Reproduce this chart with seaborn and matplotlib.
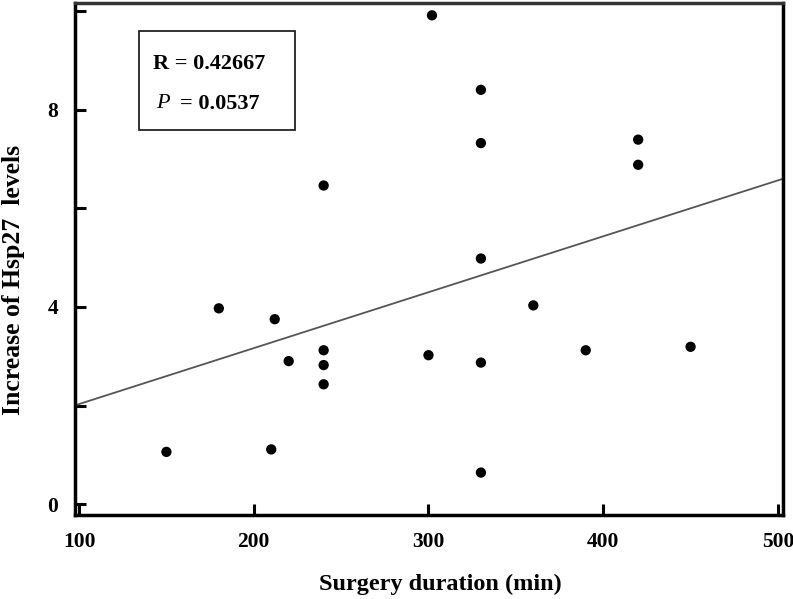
import numpy as np
import pandas as pd
import matplotlib
matplotlib.use("Agg")
import matplotlib.pyplot as plt
import matplotlib.patches as patches
import seaborn as sns

### data
duration = [240, 302, 330, 330, 420, 420, 330, 180, 212, 220, 240,
             240, 240, 150, 210, 360, 300, 330, 390, 450, 330]
hsp27 = [6.46, 9.91, 8.40, 7.32, 7.39, 6.88, 4.98, 3.97, 3.75, 2.90, 3.12,
         2.82, 2.43, 1.06, 1.11, 4.03, 3.02, 2.87, 3.12, 3.19, 0.64]
x_ticks = [100, 200, 300, 400, 500]
y_ticks = [0, 2, 4, 6, 8, 10]
y_labels = ["0", "", "4", "", "8", ""]
r_text = "R = 0.42667"
p_text = "= 0.0537"

df = pd.DataFrame({"duration": duration, "hsp27": hsp27})

sns.set_style("ticks")
plt.rcParams["font.family"] = ["Liberation Serif", "DejaVu Serif"]
plt.rcParams["text.color"] = "black"
plt.rcParams["axes.labelcolor"] = "black"
plt.rcParams["xtick.color"] = "black"
plt.rcParams["ytick.color"] = "black"

fig = plt.figure(figsize=(7.93, 5.99), dpi=100)
ax = fig.add_axes([0.0946, 0.1402, 0.8928, 0.8548])
ax.set_xlim(97.7, 502.9)
ax.set_ylim(-0.22, 10.16)

sns.regplot(data=df, x="duration", y="hsp27", ax=ax, ci=None, truncate=False,
            scatter_kws={"s": 55, "color": "black", "alpha": 1,
                         "edgecolor": "none", "zorder": 3},
            line_kws={"color": "#555555", "lw": 1.3})

ax.set_xlim(97.7, 502.9)
ax.set_ylim(-0.22, 10.16)
ax.set_xticks(x_ticks)
ax.set_yticks(y_ticks)
ax.set_yticklabels(y_labels)
ax.tick_params(direction="in", length=8, width=2.2, labelsize=15.5, pad=12,
               colors="black")
for lab in ax.get_xticklabels() + ax.get_yticklabels():
    lab.set_fontweight("bold")

for s in ax.spines.values():
    s.set_visible(True)
    s.set_linewidth(2.5)
    s.set_color("black")
ax.spines["top"].set_color("#333333")

ax.set_xlabel("Surgery duration (min)", fontsize=17.5, fontweight="bold")
ax.set_ylabel("Increase of Hsp27  levels", fontsize=18.5, fontweight="bold")
ax.xaxis.set_label_coords(0.516, -0.115)
ax.yaxis.set_label_coords(-0.070, 0.459)

### stats box
box = patches.Rectangle((0.090, 0.752), 0.221, 0.193, transform=ax.transAxes,
                        fill=False, edgecolor="#222222", lw=1.3, zorder=4)
ax.add_patch(box)
ax.text(0.110, 0.880, r_text, transform=ax.transAxes, fontsize=16,
        fontweight="bold", va="center", ha="left")
ax.text(0.114, 0.803, "P", transform=ax.transAxes, fontsize=16,
        style="italic", va="center", ha="left")
ax.text(0.148, 0.803, p_text, transform=ax.transAxes, fontsize=16,
        fontweight="bold", va="center", ha="left")

plt.savefig("out.png", dpi=100)
